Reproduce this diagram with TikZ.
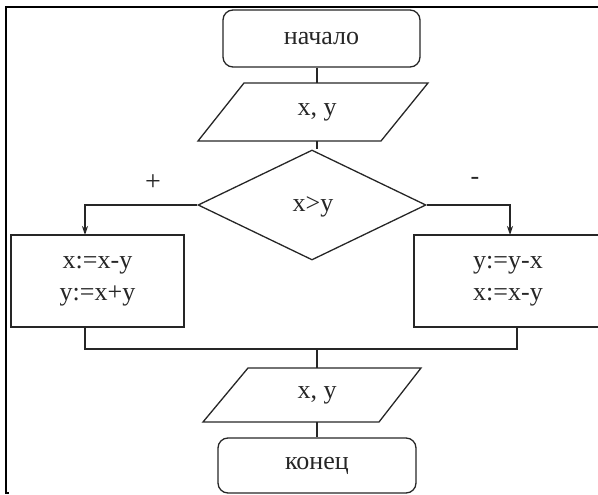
\documentclass[tikz,border=0pt]{standalone}
\usepackage{fontspec}
\setmainfont{Liberation Serif}
\usetikzlibrary{shapes.geometric,arrows.meta}
\begin{document}
\begin{tikzpicture}[x=1pt,y=-1pt,
  every node/.style={font=\fontsize{26}{31}\selectfont, text=black!85},
  line/.style={line width=1.3pt, draw=black!85},
  arr/.style={line, -{Stealth[length=9pt,width=6pt]}},
  term/.style={line, draw, rounded corners=10pt, inner sep=0pt},
  procbox/.style={line, draw, inner sep=0pt, align=center},
  txt/.style={inner sep=0pt},
  decision/.style={line, draw, diamond, inner sep=0pt}
]
\useasboundingbox (0,0) rectangle (598,495);
\clip (0,0) rectangle (598,495);
% frame
\draw[line width=1.7pt] (598,7) -- (6,7) -- (6,493) -- (9,493);
% start
\node[term, minimum width=197pt, minimum height=57pt] (start) at (321.5,38.5) {начало};
% input parallelogram
\draw[line] (244,83) -- (428,83) -- (381,141) -- (198,141) -- cycle;
\node[txt, minimum height=58pt] (p1) at (317,112) {x, y};
% decision
\node[decision, minimum width=228pt, minimum height=110pt] (d) at (312,205) {};
\node[txt] (dt) at (313,207) {x>y};
% process boxes
\node[procbox, minimum width=173pt, minimum height=92pt] (L) at (97.5,281) {x:=x-y\\[1pt]y:=x+y};
\node[procbox, minimum width=188pt, minimum height=92pt] (R) at (508,281) {y:=y-x\\[1pt]x:=x-y};
% output parallelogram
\draw[line] (248,368) -- (421,368) -- (379,422) -- (203,422) -- cycle;
\node[txt, minimum height=54pt] (p2) at (317,395) {x, y};
% end
\node[term, minimum width=198pt, minimum height=55pt] (end) at (317,465.5) {конец};
% labels
\node[txt, font=\fontsize{28}{30}\selectfont] (plus) at (153,183) {+};
\node[txt] (minus) at (475,181) {-};
% coordinates
\coordinate (aL) at (85,235);
\coordinate (aR) at (510,235);
\coordinate (bL) at (85,327);
\coordinate (bR) at (517,327);
\coordinate (m) at (317,349);
% connectors
\draw[line] (p1.north |- start.south) -- (p1.north);
\draw[line] (p1.south) -- (p1.south |- d.north);
\draw[arr] (d.west) -| (aL);
\draw[arr] (d.east) -| (aR);
\draw[line] (bL) |- (m) -| (bR);
\draw[line] (m) -- (p2.north);
\draw[line] (p2.south) -- (end.north);
\end{tikzpicture}
\end{document}
